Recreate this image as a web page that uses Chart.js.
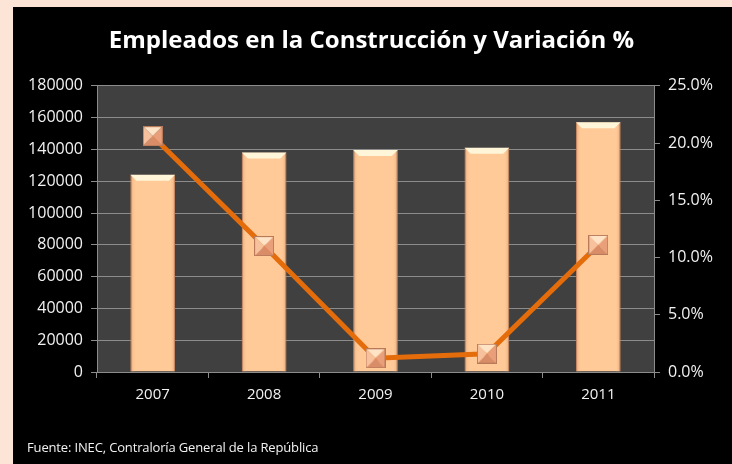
<!DOCTYPE html>
<html>
<head>
<meta charset="utf-8">
<script src="https://cdn.jsdelivr.net/npm/chart.js@4"></script>
<style>
  html, body { margin: 0; padding: 0; background: #FCE5D6; }
  #panel { position: absolute; left: 13px; top: 7px; width: 719px; height: 457px; background: #000; }
  #wrap { position: absolute; left: 0; top: 0; width: 717px; height: 457px; }
  #note { position: absolute; left: 14px; top: 431px; color: #F2F2F2; font: 13px "Open Sans", sans-serif; letter-spacing: -0.15px; }
</style>
</head>
<body>
<div id="panel">
  <div id="wrap"><canvas id="myChart"></canvas></div>
  <div id="note">Fuente: INEC, Contraloría General de la República</div>
</div>
<script>
// data
const years = ['2007', '2008', '2009', '2010', '2011'];
const empleados = [124000, 138000, 139700, 141000, 157000];
const variacion = [20.6, 11.0, 1.2, 1.6, 11.1];

const gridColor = '#8C8C8C';
const textColor = '#F2F2F2';

// pyramid-looking square marker
function makeMarker(size) {
    const c = document.createElement('canvas');
    c.width = size; c.height = size;
    const g = c.getContext('2d');
    const m = size / 2;
    const faces = [
        [[0, 0], [size, 0], '#FFE3C6'],
        [[size, 0], [size, size], '#E9A07A'],
        [[size, size], [0, size], '#D98C68'],
        [[0, size], [0, 0], '#F7C19E']
    ];
    faces.forEach(f => {
        g.beginPath();
        g.moveTo(f[0][0], f[0][1]);
        g.lineTo(f[1][0], f[1][1]);
        g.lineTo(m, m);
        g.closePath();
        g.fillStyle = f[2];
        g.fill();
    });
    g.strokeStyle = '#B97A5A';
    g.lineWidth = 1;
    g.strokeRect(0.5, 0.5, size - 1, size - 1);
    return c;
}

const plotBg = {
    id: 'plotBg',
    beforeDraw(chart) {
        const a = chart.chartArea;
        const ctx = chart.ctx;
        ctx.save();
        ctx.fillStyle = '#404040';
        ctx.fillRect(a.left, a.top, a.right - a.left, a.bottom - a.top);
        ctx.restore();
    }
};

// bevel highlight on top of each bar
const barBevel = {
    id: 'barBevel',
    afterDatasetDraw(chart, args) {
        if (args.index !== 1) return;
        const ctx = chart.ctx;
        ctx.save();
        args.meta.data.forEach(bar => {
            const p = bar.getProps(['x', 'y', 'base', 'width'], true);
            if (![p.x, p.y, p.base, p.width].every(Number.isFinite)) return;
            const l = p.x - p.width / 2, r = p.x + p.width / 2;
            const t = p.y, b = p.base;
            const gr = ctx.createLinearGradient(l, 0, r, 0);
            gr.addColorStop(0, 'rgba(190,120,80,0.45)');
            gr.addColorStop(0.12, 'rgba(255,204,153,0)');
            gr.addColorStop(0.88, 'rgba(255,204,153,0)');
            gr.addColorStop(1, 'rgba(190,120,80,0.45)');
            ctx.fillStyle = gr;
            ctx.fillRect(l, t, r - l, b - t);
            ctx.beginPath();
            ctx.moveTo(l, t);
            ctx.lineTo(r, t);
            ctx.lineTo(r - 6, t + 6);
            ctx.lineTo(l + 6, t + 6);
            ctx.closePath();
            ctx.fillStyle = '#FFF6D9';
            ctx.fill();
        });
        ctx.restore();
    }
};

const ctx = document.getElementById('myChart');

new Chart(ctx, {
    data: {
        labels: years,
        datasets: [{
            type: 'line',
            label: 'Variación %',
            data: variacion,
            yAxisID: 'y2',
            order: 0,
            borderColor: '#E46C0A',
            borderWidth: 5,
            pointStyle: makeMarker(20),
            pointRadius: 10,
            pointHoverRadius: 10,
            tension: 0
        }, {
            type: 'bar',
            label: 'Empleados',
            data: empleados,
            yAxisID: 'y',
            order: 1,
            backgroundColor: '#FFCA98',
            borderColor: '#C98F68',
            borderWidth: 1,
            barPercentage: 0.4,
            categoryPercentage: 1
        }]
    },
    plugins: [plotBg, barBevel],
    options: {
        responsive: true,
        maintainAspectRatio: false,
        animation: false,
        layout: { padding: { left: 0, right: 0, top: 0, bottom: 0 } },
        plugins: {
            legend: { display: false },
            tooltip: { enabled: false },
            title: {
                display: true,
                text: 'Empleados en la Construcción y Variación %',
                color: '#FFFFFF',
                font: { family: 'Open Sans', size: 24, weight: 'bold' },
                padding: { top: 20, bottom: 30 }
            }
        },
        scales: {
            x: {
                offset: true,
                grid: { offset: true, drawOnChartArea: false, color: gridColor, tickLength: 6 },
                border: { color: gridColor },
                ticks: { color: textColor, font: { family: 'Open Sans', size: 15 }, padding: 8 },
                afterFit(s) { s.height = 92; }
            },
            y: {
                position: 'left',
                min: 0,
                max: 180000,
                grid: { color: gridColor, tickLength: 6 },
                border: { color: gridColor },
                ticks: {
                    stepSize: 20000,
                    color: textColor,
                    font: { family: 'Open Sans', size: 16 },
                    padding: 8,
                    callback: v => String(v)
                },
                afterFit(s) { s.width = 84; }
            },
            y2: {
                position: 'right',
                min: 0,
                max: 25,
                grid: { drawOnChartArea: false, color: gridColor, tickLength: 6 },
                border: { color: gridColor },
                ticks: {
                    stepSize: 5,
                    color: textColor,
                    font: { family: 'Open Sans', size: 16 },
                    padding: 8,
                    callback: v => v.toFixed(1) + '%'
                },
                afterFit(s) { s.width = 76; }
            }
        }
    }
});
</script>
</body>
</html>
